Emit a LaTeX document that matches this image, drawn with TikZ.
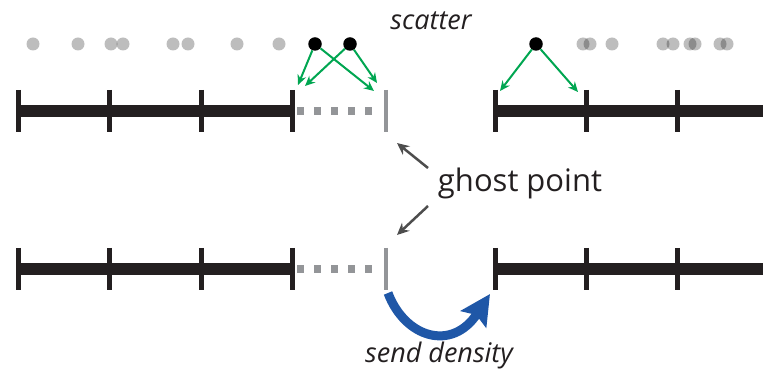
\documentclass[tikz,border=0pt]{standalone}
\usepackage{fontspec}
\setmainfont{Open Sans}
\usetikzlibrary{arrows.meta}
\definecolor{barblack}{HTML}{231F20}
\definecolor{ghostgray}{HTML}{939598}
\definecolor{arrgreen}{HTML}{00A651}
\definecolor{arrblue}{HTML}{1F57A7}
\definecolor{labelgray}{HTML}{4D4D4D}
\begin{document}
\begin{tikzpicture}[x=1pt,y=-1pt,
  bar/.style={line width=12pt, barblack},
  tickmark/.style={line width=5pt, barblack},
  ghostdash/.style={line width=8pt, ghostgray, dash pattern=on 7pt off 10pt},
  ghosttick/.style={line width=4.5pt, ghostgray},
  graydot/.style={circle, fill=black, fill opacity=0.26, minimum size=13pt, inner sep=0pt},
  blackdot/.style={circle, fill=black, minimum size=13.5pt, inner sep=0pt},
  greenarrow/.style={draw=arrgreen, line width=2pt, -{Stealth[length=10pt,width=9pt]}},
  grayarrow/.style={draw=labelgray, line width=2.5pt, -{Stealth[length=12pt,width=11pt]}},
  bluearrow/.style={draw=arrblue, line width=9pt, -{Stealth[length=30pt,width=30pt,inset=5pt]}},
  lbl/.style={inner sep=0pt, text=barblack}
]
\useasboundingbox (0,0) rectangle (763,371);

% ---------- top line ----------
\draw[bar] (18,111) -- (292,111);
\draw[ghostdash] (297,111) -- (380,111);
\foreach \x in {18,109,201,292} \draw[tickmark] (\x,90) -- (\x,132);
\draw[ghosttick] (386,90) -- (386,132);
\draw[bar] (495,111) -- (763,111);
\foreach \x in {495,586,677} \draw[tickmark] (\x,90) -- (\x,132);

% ---------- bottom line ----------
\draw[bar] (18,269) -- (292,269);
\draw[ghostdash] (297,269) -- (380,269);
\foreach \x in {18,109,201,292} \draw[tickmark] (\x,248) -- (\x,290);
\draw[ghosttick] (386,248) -- (386,290);
\draw[bar] (495,269) -- (763,269);
\foreach \x in {495,586,677} \draw[tickmark] (\x,248) -- (\x,290);

% ---------- particles ----------
\foreach \x [count=\i] in {33,78,111,123,173,188,237,279,583,590,612,663,673,690,695,720,727}
  \node[graydot] (g\i) at (\x,44) {};
\node[blackdot] (b1) at (315,44) {};
\node[blackdot] (b2) at (350,44) {};
\node[blackdot] (b3) at (536,44) {};

\coordinate (t1) at (298,85);
\coordinate (t2) at (374,91);
\coordinate (t3) at (305,86);
\coordinate (t4) at (377,83);
\coordinate (t5) at (500,91);
\coordinate (t6) at (578,92);
\draw[greenarrow] (b1) -- (t1);
\draw[greenarrow] (b1) -- (t2);
\draw[greenarrow] (b2) -- (t3);
\draw[greenarrow] (b2) -- (t4);
\draw[greenarrow] (b3) -- (t5);
\draw[greenarrow] (b3) -- (t6);

% ---------- labels ----------
\node[lbl, font=\fontsize{27}{32}\selectfont\itshape] (scatter) at (431,21) {scatter};
\node[lbl, font=\fontsize{31}{36}\selectfont] (ghost) at (520,183) {ghost point};
\node[lbl, font=\fontsize{27}{32}\selectfont\itshape] (send) at (439,355) {send density};

\coordinate (gs1) at (428,168);
\coordinate (ge1) at (397,143);
\coordinate (gs2) at (428,206);
\coordinate (ge2) at (397,235);
\draw[grayarrow] (gs1) -- (ge1);
\draw[grayarrow] (gs2) -- (ge2);

% ---------- send density arrow ----------
\coordinate (bs) at (388,293);
\coordinate (be) at (490,294);
\draw[bluearrow] (bs) .. controls (405,338) and (452,352) .. (be);
\end{tikzpicture}
\end{document}
